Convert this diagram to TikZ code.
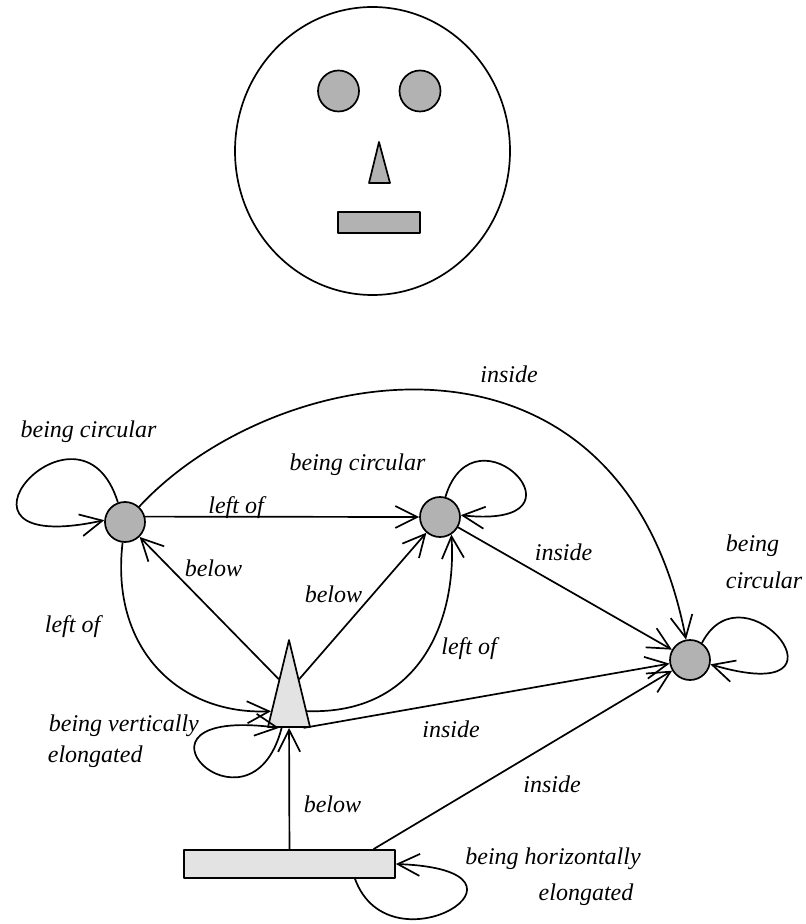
\documentclass[tikz,border=0pt]{standalone}
\usepackage{fontspec}
\setmainfont{Liberation Serif}
\usetikzlibrary{arrows.meta,shapes.geometric}

\begin{document}
\begin{tikzpicture}[x=0.5pt, y=-0.5pt, line width=0.85pt, line join=round,
    >={Straight Barb[length=11pt, width=11pt]},
    blob/.style={circle, draw, fill=gray!60, minimum size=20pt, inner sep=0pt},
    tri/.style={isosceles triangle, isosceles triangle stretches, shape border rotate=90,
      draw, fill=gray!22, inner sep=0pt, minimum width=21pt, minimum height=43.5pt},
    bar/.style={rectangle, draw, fill=gray!22, minimum width=105.5pt, minimum height=14pt, inner sep=0pt},
    lbl/.style={font=\fontsize{12pt}{14pt}\selectfont\itshape, anchor=base, inner sep=0pt}]
  \useasboundingbox (0,0) rectangle (805,924);
  % the face
  \draw (372.5,151) ellipse (137.5 and 144);
  \filldraw[fill=gray!60] (338.5,91) circle (20.5);
  \filldraw[fill=gray!60] (420,91) circle (20.5);
  \filldraw[fill=gray!60] (379,142) -- (369,183) -- (390,183) -- cycle;
  \filldraw[fill=gray!60] (338,212) rectangle (420,233);
  % graph of the parts
  \node[blob] (le) at (125,522) {};
  \node[blob] (re) at (440,517) {};
  \node[blob] (fc) at (690,660) {};
  \node[tri] (no) at (289,710.5) {};
  \node[bar] (mo) at (289.5,864) {};
  % left eye
  \draw[->] (le.110) .. controls (80,380) and (-80,560) .. (le.175);
  \node[lbl] (lc) at (88.5,437.5) {being circular};
  \draw[->] (le.15) -- (re.west);
  \node[lbl] (lo1) at (236,513.5) {left of};
  \draw[->] (le) .. controls (275,360) and (620,300) .. (fc);
  \node[lbl] (in1) at (509,382.5) {inside};
  \draw[->] (le) .. controls (110,650) and (180,715) .. (no);
  \node[lbl] (lo2) at (72.5,632.5) {left of};
  % right eye
  \draw[->] (re.75) .. controls (475,400) and (600,530) .. (re.5);
  \node[lbl] (rc) at (357.5,470.5) {being circular};
  \draw[->] (re) -- (fc);
  \node[lbl] (in2) at (563.5,560.5) {inside};
  % face node
  \draw[->] (fc.55) .. controls (745,560) and (865,710) .. (fc.-12);
  \node[lbl, anchor=base west] (fc1) at (725,551.5) {being};
  \node[lbl, anchor=base west] (fc2) at (725,588.5) {circular};
  % nose
  \draw[->] (no.108) -- (le);
  \node[lbl] (bl1) at (213.5,576.5) {below};
  \draw[->] (no.72) -- (re);
  \node[lbl] (bl2) at (333.5,602.5) {below};
  \draw[->] (no) .. controls (420,715) and (457,620) .. (re.-57);
  \node[lbl] (lo3) at (469,654.5) {left of};
  \draw[->] (no.-50) -- (fc);
  \node[lbl] (in3) at (451,737.5) {inside};
  \draw[->] (no.-113) .. controls (250,850) and (105,705) .. (no.-120);
  \node[lbl, anchor=base west] (ve1) at (48,731.5) {being vertically};
  \node[lbl, anchor=base west] (ve2) at (47,762.5) {elongated};
  % mouth
  \draw[->] (mo) -- (no);
  \node[lbl] (bl3) at (332.5,812.5) {below};
  \draw[->] ([xshift=42pt]mo.north) -- (fc);
  \node[lbl] (in4) at (552,792.5) {inside};
  \draw[->] ([xshift=32.75pt]mo.south) .. controls (390,975) and (560,870) .. (mo.east);
  \node[lbl] (ho1) at (553,864.5) {being horizontally};
  \node[lbl] (ho2) at (586,900.5) {elongated};
\end{tikzpicture}
\end{document}
